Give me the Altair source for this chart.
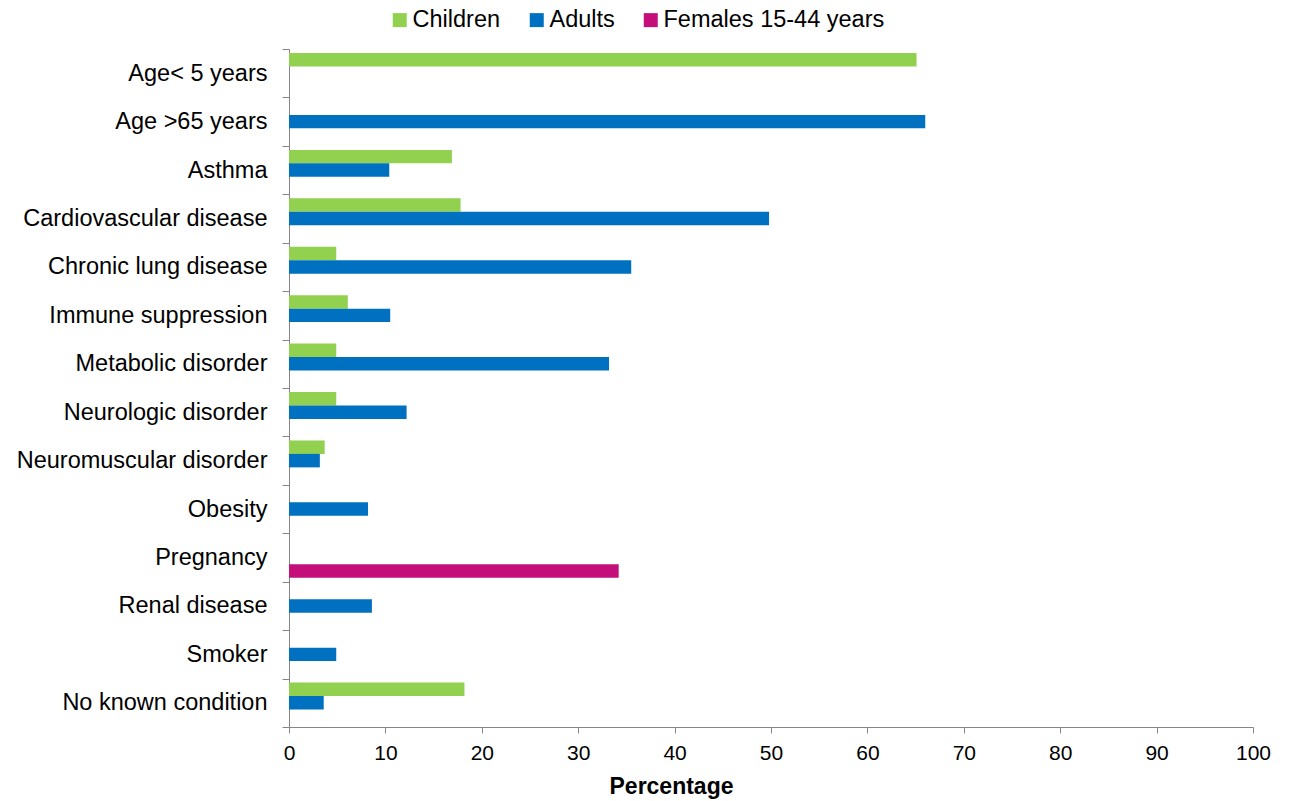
import altair as alt
import pandas as pd

categories = ["Age< 5 years", "Age >65 years", "Asthma", "Cardiovascular disease",
              "Chronic lung disease", "Immune suppression", "Metabolic disorder",
              "Neurologic disorder", "Neuromuscular disorder", "Obesity", "Pregnancy",
              "Renal disease", "Smoker", "No known condition"]
series = ["Children", "Adults", "Females 15-44 years"]
colors = ["#92D050", "#0070C0", "#C40F7A"]

children = [65.1, None, 16.9, 17.8, 4.9, 6.1, 4.9, 4.9, 3.7, None, None, None, None, 18.2]
adults = [None, 66.0, 10.4, 49.8, 35.5, 10.5, 33.2, 12.2, 3.2, 8.2, None, 8.6, 4.9, 3.6]
females = [None, None, None, None, None, None, None, None, None, None, 34.2, None, None, None]

rows = []
for s, vals in zip(series, [children, adults, females]):
    for c, v in zip(categories, vals):
        if v is not None:
            rows.append({"category": c, "series": s, "value": v})
df = pd.DataFrame(rows)

FONT = "Liberation Sans"
GRAY = "#868686"

bars = alt.Chart(df).mark_bar().encode(
    x=alt.X("value:Q", scale=alt.Scale(domain=[0, 100], nice=False),
            axis=alt.Axis(values=list(range(0, 101, 10)), title="Percentage",
                          grid=False, domainColor=GRAY, tickColor=GRAY, tickSize=6,
                          labelFontSize=21, labelColor="#000000", labelPadding=9,
                          labelLimit=0, labelFlush=False,
                          titleFontSize=23, titleFontWeight="bold", titleColor="#000000",
                          titlePadding=12, titleX=382, titleAnchor="middle")),
    y=alt.Y("category:N", sort=categories,
            scale=alt.Scale(domain=categories, paddingInner=0, paddingOuter=0),
            axis=alt.Axis(title=None, tickBand="extent", domainColor=GRAY, tickColor=GRAY,
                          tickSize=7, labelFontSize=23.5, labelColor="#000000",
                          labelPadding=15, labelLimit=0)),
    yOffset=alt.YOffset("series:N", sort=series,
                        scale=alt.Scale(domain=series, paddingOuter=0.3, paddingInner=0)),
    color=alt.Color("series:N", sort=series,
                    scale=alt.Scale(domain=series, range=colors),
                    legend=alt.Legend(title=None, orient="none", direction="horizontal",
                                      legendX=99, legendY=-41, symbolType="square",
                                      symbolSize=196, symbolStrokeWidth=0,
                                      labelFontSize=23.5, labelColor="#000000",
                                      labelLimit=0, columnPadding=24, labelOffset=1)),
)

chart = bars.properties(
    width=964, height=678,
    autosize=alt.AutoSizeParams(type="none"),
    padding={"left": 289, "top": 49, "right": 36, "bottom": 74},
    background="white",
).configure(font=FONT).configure_view(stroke=None)

chart.save("out.html", embed_options={"renderer": "svg", "actions": False})
